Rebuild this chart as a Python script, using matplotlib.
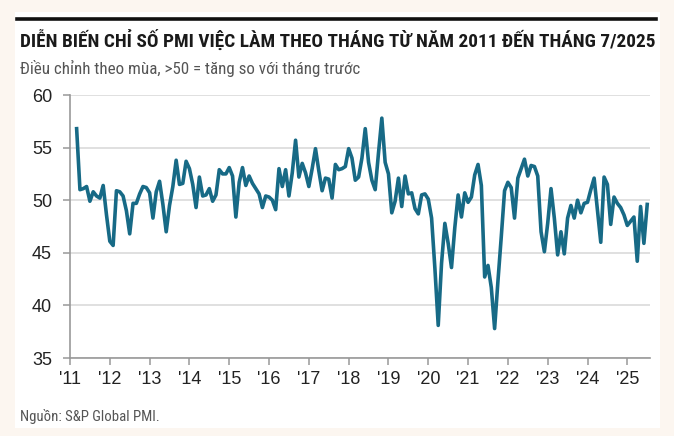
import matplotlib.pyplot as plt
import matplotlib.patches as mpatches
from matplotlib import font_manager
import numpy as np

# monthly PMI employment index, Mar 2011 .. Jul 2025
y2011 = [56.8, 51.0, 51.1, 51.3, 49.9, 50.8, 50.4, 50.2, 51.4, 48.6]  # from March
y2012 = [46.1, 45.7, 50.9, 50.8, 50.4, 49.0, 46.8, 49.7, 49.7, 50.6, 51.3, 51.2]
y2013 = [50.7, 48.3, 50.8, 51.8, 49.6, 47.0, 49.5, 51.3, 53.8, 51.5, 51.6, 53.7]
y2014 = [53.0, 51.5, 49.3, 52.2, 50.4, 50.5, 51.1, 49.9, 50.5, 52.9, 52.5, 52.5]
y2015 = [53.1, 52.3, 48.4, 51.7, 53.1, 51.4, 52.3, 51.6, 51.1, 50.6, 49.3, 50.4]
y2016 = [50.3, 50.0, 49.1, 53.0, 51.3, 52.9, 50.4, 52.6, 55.7, 52.2, 53.5, 52.6]
y2017 = [51.3, 53.0, 54.9, 52.8, 50.9, 52.1, 52.0, 50.2, 53.4, 52.9, 53.0, 53.2]
y2018 = [54.9, 54.0, 51.9, 52.2, 54.0, 56.8, 53.6, 51.9, 51.0, 54.5, 57.8, 53.6]
y2019 = [52.5, 48.8, 49.9, 52.1, 49.4, 52.3, 50.6, 50.7, 49.2, 48.7, 50.5, 50.6]
y2020 = [50.1, 48.3, 43.5, 38.1, 44.0, 47.8, 45.9, 43.6, 47.4, 50.5, 48.4, 50.7]
y2021 = [49.8, 50.3, 52.4, 53.4, 51.4, 42.7, 43.8, 41.7, 37.8, 42.3, 46.5, 50.9]
y2022 = [51.7, 51.2, 48.3, 52.1, 53.0, 53.9, 52.3, 53.3, 53.2, 52.3, 47.0, 45.1]
y2023 = [47.8, 51.1, 48.3, 44.8, 47.0, 44.9, 48.3, 49.5, 48.3, 50.0, 48.8, 49.7]
y2024 = [49.8, 51.0, 52.1, 49.0, 46.0, 52.2, 51.5, 47.7, 50.3, 49.7, 49.3, 48.6]
y2025 = [47.6, 48.0, 48.4, 44.2, 49.4, 45.9, 49.6]  # to July

years = list(range(2011, 2026))
year_labels = ["'" + str(y)[2:] for y in years]
yticks = [35, 40, 45, 50, 55, 60]

values = np.array(y2011 + y2012 + y2013 + y2014 + y2015 + y2016 + y2017 + y2018
                  + y2019 + y2020 + y2021 + y2022 + y2023 + y2024 + y2025)
t = 2011 + (2 + np.arange(len(values))) / 12.0

# look for a narrow family, otherwise fall back to a plain sans
names = sorted({f.name for f in font_manager.fontManager.ttflist})
narrow_name = None
for cand in ["Liberation Sans Narrow", "DejaVu Sans Condensed", "Roboto Condensed",
             "Open Sans Condensed", "Noto Sans Condensed", "Arial Narrow"]:
    if cand in names:
        narrow_name = cand
        break
if narrow_name is None:
    narrow_name = "Roboto" if "Roboto" in names else "Liberation Sans"
narrow = [narrow_name, "DejaVu Sans"]

W, H = 674, 436
fig = plt.figure(figsize=(W / 100, H / 100), dpi=100)
fig.patch.set_facecolor("#fcf6f0")

# white panel + black rule on top
fig.add_artist(mpatches.Rectangle((15 / W, 1 - 428 / H), 645 / W, 416 / H,
                                  transform=fig.transFigure, facecolor="white",
                                  edgecolor="none", zorder=0))
fig.add_artist(plt.Line2D([17 / W, 656 / W], [1 - 19 / H, 1 - 19 / H],
                          transform=fig.transFigure, color="#111111", lw=2.6))

title = fig.text(20 / W, 1 - 40 / H,
                 "DIỄN BIẾN CHỈ SỐ PMI VIỆC LÀM THEO THÁNG TỪ NĂM 2011 ĐẾN THÁNG 7/2025",
                 family=narrow, fontsize=13, fontweight="bold", color="#1a1a1a", va="center")
sub = fig.text(20 / W, 1 - 68 / H, "Điều chỉnh theo mùa, >50 = tăng so với tháng trước",
               family=narrow, fontsize=10, color="#555555", va="center")
src = fig.text(20 / W, 1 - 416 / H, "Nguồn: S&P Global PMI.",
               family=narrow, fontsize=10, color="#555555", va="center")

# fit text widths to the reference
renderer = fig.canvas.get_renderer()
for txt, target in [(title, 632), (sub, 338), (src, 140)]:
    w = txt.get_window_extent(renderer).width
    txt.set_fontsize(txt.get_fontsize() * target / w)

ax = fig.add_axes([70 / W, 1 - 358 / H, 580 / W, 263 / H])
ax.plot(t, values, color="#176a86", lw=2.6, solid_joinstyle="round", zorder=3)

ax.set_xlim(2011, 2025.57)
ax.set_ylim(35, 60)
ax.set_xticks(years)
ax.set_xticklabels(year_labels)
ax.set_yticks(yticks)
ax.grid(axis="y", color="#dddddd", lw=1.3)
ax.set_axisbelow(True)
for side in ["top", "right"]:
    ax.spines[side].set_visible(False)
for side in ["left", "bottom"]:
    ax.spines[side].set_color("#999999")
    ax.spines[side].set_linewidth(1.2)
ax.tick_params(axis="both", colors="#999999", labelcolor="#222222", length=5, width=1.1,
               labelsize=13)
ax.tick_params(axis="y", pad=8)
ax.tick_params(axis="x", pad=4)
for lab in ax.get_xticklabels() + ax.get_yticklabels():
    lab.set_family(["Liberation Sans", "DejaVu Sans"])

fig.savefig("out.png", dpi=100)
